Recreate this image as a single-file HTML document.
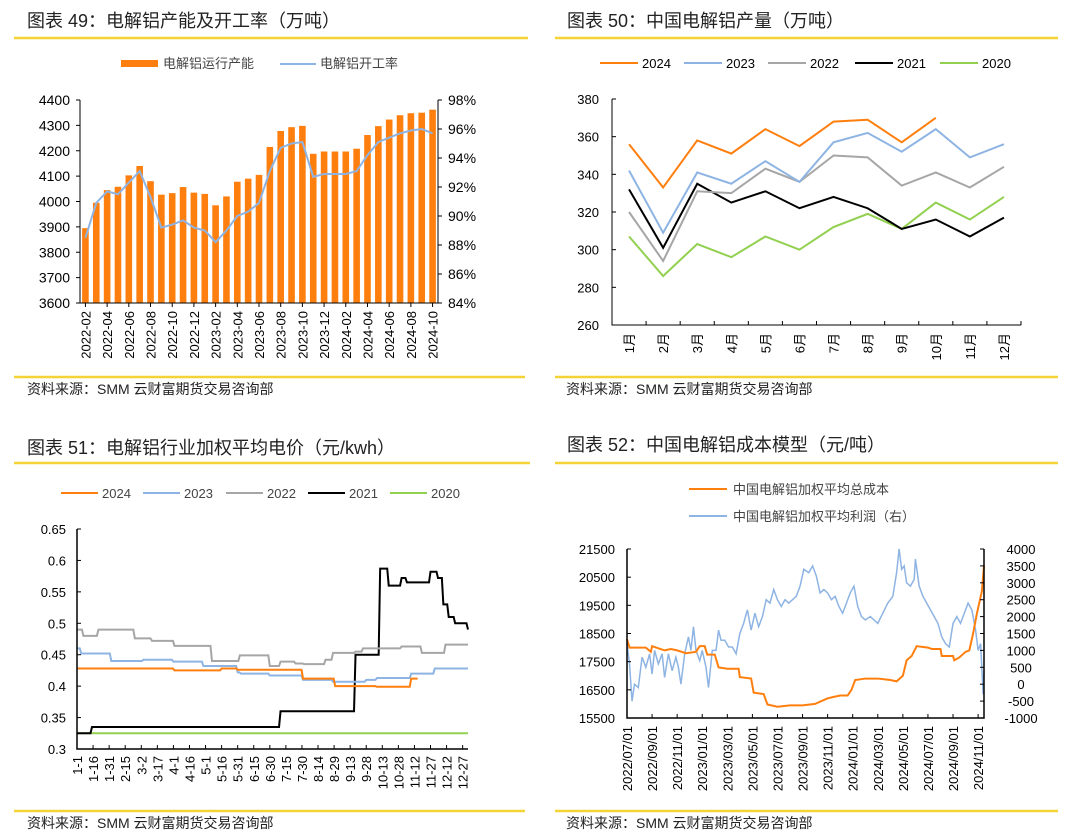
<!DOCTYPE html>
<html><head><meta charset="utf-8"><style>
html,body{margin:0;padding:0;background:#fff;}
svg{display:block;font-family:"Liberation Sans","Noto Sans CJK SC",sans-serif;}
</style></head><body>
<svg id="root" width="1071" height="833" viewBox="0 0 1071 833" xmlns="http://www.w3.org/2000/svg">
<rect width="1071" height="833" fill="#fff"/>
<g font-size="18" fill="#222">
<text x="27" y="27">图表 49：电解铝产能及开工率（万吨）</text>
<text x="567" y="27">图表 50：中国电解铝产量（万吨）</text>
<text x="27" y="454">图表 51：电解铝行业加权平均电价（元/kwh）</text>
<text x="567" y="451">图表 52：中国电解铝成本模型（元/吨）</text>
</g>
<g stroke="#f5d235" stroke-width="2.5">
<line x1="14" y1="38" x2="528" y2="38"/>
<line x1="555" y1="38" x2="1058" y2="38"/>
<line x1="14" y1="377" x2="525" y2="377"/>
<line x1="555" y1="377" x2="1058" y2="377"/>
<line x1="14" y1="463" x2="530" y2="463"/>
<line x1="555" y1="463" x2="1058" y2="463"/>
<line x1="14" y1="811" x2="525" y2="811"/>
<line x1="555" y1="811" x2="1058" y2="811"/>
</g>
<g font-size="14" fill="#222">
<text x="27" y="394">资料来源：SMM 云财富期货交易咨询部</text>
<text x="566" y="394">资料来源：SMM 云财富期货交易咨询部</text>
<text x="27" y="828">资料来源：SMM 云财富期货交易咨询部</text>
<text x="566" y="828">资料来源：SMM 云财富期货交易咨询部</text>
</g>
<g id="c1"></g>
<g id="c2"></g>
<g id="c3"></g>
<g id="c4"></g>
</svg>
<script>
// ---- Chart 49 data ----
const c1Months = ["2022-02","2022-03","2022-04","2022-05","2022-06","2022-07","2022-08","2022-09","2022-10","2022-11","2022-12","2023-01","2023-02","2023-03","2023-04","2023-05","2023-06","2023-07","2023-08","2023-09","2023-10","2023-11","2023-12","2024-01","2024-02","2024-03","2024-04","2024-05","2024-06","2024-07","2024-08","2024-09","2024-10"];
const c1Capacity = [3895,3995,4045,4058,4103,4140,4080,4027,4033,4057,4035,4030,3985,4020,4078,4090,4105,4215,4278,4293,4298,4188,4197,4197,4197,4208,4262,4297,4323,4340,4348,4350,4362];
const c1Rate = [88.5,90.9,91.7,91.5,92.3,93.1,91.3,89.2,89.4,89.7,89.2,89.0,88.2,89.0,90.0,90.3,90.9,93.1,94.7,95.0,95.1,92.7,92.9,92.9,92.9,93.1,94.2,95.1,95.4,95.7,95.9,96.0,95.7];
const c1LeftTicks = [3600,3700,3800,3900,4000,4100,4200,4300,4400];
const c1RightTicks = [84,86,88,90,92,94,96,98];
// ---- Chart 50 data ----
const c2Months = ["1月","2月","3月","4月","5月","6月","7月","8月","9月","10月","11月","12月"];
const c2Years = ["2024","2023","2022","2021","2020"];
const c2S2024 = [356,333,358,351,364,355,368,369,357,370];
const c2S2023 = [342,309,341,335,347,336,357,362,352,364,349,356];
const c2S2022 = [320,294,331,330,343,336,350,349,334,341,333,344];
const c2S2021 = [332,301,335,325,331,322,328,322,311,316,307,317];
const c2S2020 = [307,286,303,296,307,300,312,319,311,325,316,328];
const c2Ticks = [260,280,300,320,340,360,380];
// ---- Chart 51 data (step series: start day, value) ----
const c3Labels = ["1-1","1-16","1-31","2-15","3-2","3-17","4-1","4-16","5-1","5-16","5-31","6-15","6-30","7-15","7-30","8-14","8-29","9-13","9-28","10-13","10-28","11-12","11-27","12-12","12-27"];
const c3Ticks = [0.3,0.35,0.4,0.45,0.5,0.55,0.6,0.65];
const c3D2024 = [0,91,135,150,211,241,280,312,318];
const c3V2024 = [0.428,0.425,0.428,0.426,0.412,0.400,0.399,0.412,0.412];
const c3D2023 = [0,4,32,62,90,118,150,153,180,211,239,270,280,312,334,365];
const c3V2023 = [0.460,0.452,0.440,0.442,0.439,0.432,0.422,0.420,0.417,0.410,0.407,0.410,0.413,0.420,0.428,0.428];
const c3D2022 = [0,6,20,54,70,91,126,152,180,190,204,212,232,239,260,267,303,322,344,365];
const c3V2022 = [0.490,0.480,0.490,0.476,0.472,0.464,0.440,0.449,0.432,0.439,0.436,0.435,0.442,0.453,0.455,0.460,0.463,0.453,0.466,0.466];
const c3D2021 = [0,14,190,260,280,283,291,300,303,308,323,330,334,337,342,347,353,365];
const c3V2021 = [0.325,0.335,0.360,0.450,0.450,0.587,0.560,0.560,0.572,0.565,0.565,0.582,0.582,0.572,0.530,0.510,0.500,0.490];
const c3D2020 = [0,365];
const c3V2020 = [0.325,0.325];
// ---- Chart 52 data (months since 2022/07/01) ----
const c4Labels = ["2022/07/01","2022/09/01","2022/11/01","2023/01/01","2023/03/01","2023/05/01","2023/07/01","2023/09/01","2023/11/01","2024/01/01","2024/03/01","2024/05/01","2024/07/01","2024/09/01","2024/11/01"];
const c4LeftTicks = [15500,16500,17500,18500,19500,20500,21500];
const c4RightTicks = [-1000,-500,0,500,1000,1500,2000,2500,3000,3500,4000];
const c4CostM = [0,0.2,1.5,1.9,2.0,3,3.5,4,4.7,5.5,5.8,6.2,6.4,7.0,7.3,8,8.9,9.0,9.9,10.1,10.9,11.2,12,13,14,15,16,16.5,17,17.6,17.9,18.2,19,20,21,21.5,22,22.3,22.7,23.1,24,24.3,25,25.1,26,26.1,26.5,27,27.3,27.6,27.9,28.3,28.47];
const c4Cost = [18300,18000,18000,17850,18050,17900,17950,17900,17800,17850,18050,18050,17750,17750,17300,17250,17250,16950,16900,16400,16350,15980,15900,15950,15950,16000,16200,16250,16300,16300,16500,16850,16900,16900,16850,16800,17000,17550,17700,18050,18000,17950,17950,17700,17700,17550,17650,17850,17900,18500,19200,20000,20900];
const c4ProfitM = [0,0.2,0.4,0.6,0.9,1.2,1.5,1.8,2.0,2.2,2.5,2.8,3.0,3.3,3.6,3.9,4.1,4.3,4.6,4.9,5.1,5.3,5.5,5.8,6.0,6.3,6.5,6.8,7.1,7.3,7.5,7.8,8.1,8.4,8.7,9.0,9.3,9.6,9.9,10.2,10.5,10.8,11.1,11.4,11.7,12.0,12.3,12.6,12.9,13.2,13.5,13.8,14.1,14.5,14.8,15.1,15.4,15.7,16.0,16.3,16.6,16.9,17.2,17.5,17.8,18.1,18.4,18.7,19.0,19.4,19.7,20.0,20.4,20.8,21.2,21.5,21.7,21.9,22.1,22.3,22.6,22.9,23.0,23.3,23.6,23.9,24.2,24.5,24.8,25.1,25.4,25.7,26.0,26.3,26.6,26.9,27.2,27.5,27.8,28.0,28.2,28.4,28.47];
const c4Profit = [1200,600,-500,0,-100,800,500,900,300,1000,600,900,200,900,400,800,500,0,900,1400,1000,1700,1000,700,1000,500,-100,1000,1000,1600,1300,1300,1100,1100,900,1500,1800,2200,1600,2100,1700,2000,2500,2400,2800,2500,2300,2500,2400,2500,2600,2900,3400,3300,3500,3200,2700,2800,2700,2500,2600,2300,2100,2400,2700,2900,2300,2000,1900,2000,1900,1800,2100,2400,2600,3300,4000,3400,3500,3000,2900,3100,3700,2900,2600,2400,2200,2000,1800,1400,1200,1100,1800,2000,1800,2100,2400,2200,1600,1000,1200,-300,400];

const NS="http://www.w3.org/2000/svg";
function mk(parent,tag,attrs,txt){const e=document.createElementNS(NS,tag);for(const k in attrs)e.setAttribute(k,attrs[k]);if(txt!==undefined)e.textContent=txt;parent.appendChild(e);return e;}
function lin(d0,d1,r0,r1){return v=>r0+(v-d0)/(d1-d0)*(r1-r0);}
const ORANGE="#ff7f0e",BLUE="#8eb4e3",GRAY="#a6a6a6",BLACK="#000",GREEN="#92d050";

// ================= Chart 49 =================
(function(){
const g=document.getElementById('c1');
const L=80,R=438,T=100,B=303;
const n=c1Months.length, bw=(R-L)/n;
const y=lin(3600,4400,B,T), yr=lin(84,98,B,T);
const xc=i=>L+bw*(i+0.5);
c1Capacity.forEach((v,i)=>{
 const b=mk(g,'rect',{x:xc(i)-3.3,y:y(v),width:6.6,height:B-y(v),fill:ORANGE});
 
 
});
const p=mk(g,'polyline',{points:c1Rate.map((v,i)=>xc(i)+','+yr(v)).join(' '),fill:'none',stroke:BLUE,'stroke-width':2});


const ax=mk(g,'path',{d:`M${L},${T}V${B}H${R}V${T}`,fill:'none',stroke:'#000','stroke-width':1});


c1LeftTicks.forEach(v=>{
 mk(g,'line',{x1:L-4,x2:L,y1:y(v),y2:y(v),stroke:'#000'});
 const t=mk(g,'text',{x:L-10,y:y(v)+5,'text-anchor':'end','font-size':14,fill:'#000'},v);
 
 
});
c1RightTicks.forEach(v=>{
 mk(g,'line',{x1:R,x2:R+4,y1:yr(v),y2:yr(v),stroke:'#000'});
 const t=mk(g,'text',{x:R+10,y:yr(v)+5,'font-size':14,fill:'#000'},v+'%');
 
 
});
c1Months.forEach((m,i)=>{
 if(i%2===0){
  mk(g,'line',{x1:L+bw*i+bw/2,x2:L+bw*i+bw/2,y1:B,y2:B+4,stroke:'#000'});
  const t=mk(g,'text',{transform:`translate(${xc(i)+5},${B+8}) rotate(-90)`,'text-anchor':'end','font-size':13,fill:'#000'},m);
  
  
 }
});
const l1=mk(g,'rect',{x:121,y:60,width:37,height:7,fill:ORANGE});


const lt1=mk(g,'text',{x:163,y:68,'font-size':13,fill:'#444'},'电解铝运行产能');


const l2=mk(g,'line',{x1:280,x2:316,y1:64,y2:64,stroke:BLUE,'stroke-width':2});


const lt2=mk(g,'text',{x:320,y:68,'font-size':13,fill:'#444'},'电解铝开工率');


})();

// ================= Chart 50 =================
(function(){
const g=document.getElementById('c2');
const L=612,R=1021,T=99,B=325;
const n=12,bw=(R-L)/n;
const y=lin(260,380,B,T), xc=i=>L+bw*(i+0.5);
const series=[c2S2024,c2S2023,c2S2022,c2S2021,c2S2020], cols=[ORANGE,BLUE,GRAY,BLACK,GREEN];
for(let s=4;s>=0;s--){
 const p=mk(g,'polyline',{points:series[s].map((v,i)=>xc(i)+','+y(v)).join(' '),fill:'none',stroke:cols[s],'stroke-width':2});
 
 
}
const ax=mk(g,'path',{d:`M${L},${T}V${B}H${R}`,fill:'none',stroke:'#000'});


c2Ticks.forEach(v=>{
 mk(g,'line',{x1:L,x2:L+4,y1:y(v),y2:y(v),stroke:'#000'});
 const t=mk(g,'text',{x:L-13,y:y(v)+5,'text-anchor':'end','font-size':13,fill:'#000'},v);
 
 
});
c2Months.forEach((m,i)=>{
 mk(g,'line',{x1:L+bw*(i+1),x2:L+bw*(i+1),y1:B,y2:B-4,stroke:'#000'});
 const t=mk(g,'text',{transform:`translate(${xc(i)+5},${B+8}) rotate(-90)`,'text-anchor':'end','font-size':13,fill:'#000'},m);
 
 
});
const lx=[600,684,768,855,940];
c2Years.forEach((yname,s)=>{
 const sw=mk(g,'line',{x1:lx[s],x2:lx[s]+38,y1:63,y2:63,stroke:cols[s],'stroke-width':2});
 
 
 const t=mk(g,'text',{x:lx[s]+42,y:68,'font-size':13,fill:'#000'},yname);
 
 
});
})();

// ================= Chart 51 =================
(function(){
const g=document.getElementById('c3');
const L=77,R=468,T=529,B=749;
const x=lin(0,365,L,R), y=lin(0.3,0.65,B,T);
const names=["2024","2023","2022","2021","2020"], cols=[ORANGE,BLUE,GRAY,BLACK,GREEN];
const D=[c3D2024,c3D2023,c3D2022,c3D2021,c3D2020], V=[c3V2024,c3V2023,c3V2022,c3V2021,c3V2020];
for(let s=4;s>=0;s--){
 let d='';
 D[s].forEach((dd,i)=>{
  if(i===0)d+=`M${x(dd)},${y(V[s][i])}`;
  else{d+=`H${x(dd)-1.5}L${x(dd)},${y(V[s][i])}`;}
 });
 const p=mk(g,'path',{d:d,fill:'none',stroke:cols[s],'stroke-width':2});
 
 
}
const ax=mk(g,'path',{d:`M${L},${T}V${B}H${R}`,fill:'none',stroke:'#000','stroke-width':1.5});


c3Ticks.forEach(v=>{
 mk(g,'line',{x1:L,x2:L+4,y1:y(v),y2:y(v),stroke:'#000'});
 const t=mk(g,'text',{x:L-11,y:y(v)+5,'text-anchor':'end','font-size':13,fill:'#000'},v);
 
 
});
c3Labels.forEach((lab,i)=>{
 const xx=x(i*15);
 mk(g,'line',{x1:xx,x2:xx,y1:B,y2:B-4,stroke:'#000'});
 const t=mk(g,'text',{transform:`translate(${xx+5},${B+7}) rotate(-90)`,'text-anchor':'end','font-size':13,fill:'#000'},lab);
 
 
});
const lx=[61,143,226,308,390];
names.forEach((nm,s)=>{
 const sw=mk(g,'line',{x1:lx[s],x2:lx[s]+37,y1:493,y2:493,stroke:cols[s],'stroke-width':2});
 
 
 const t=mk(g,'text',{x:lx[s]+41,y:498,'font-size':13,fill:'#444'},nm);
 
 
});
})();

// ================= Chart 52 =================
(function(){
const g=document.getElementById('c4');
const L=627,R=984,T=549,B=718;
const x=lin(0,28.47,L,R), y=lin(15500,21500,B,T), yr=lin(-1000,4000,B,T);
const pb=mk(g,'polyline',{points:c4ProfitM.map((m,i)=>x(m)+','+yr(c4Profit[i])).join(' '),fill:'none',stroke:BLUE,'stroke-width':1.5});


const pc=mk(g,'polyline',{points:c4CostM.map((m,i)=>x(m)+','+y(c4Cost[i])).join(' '),fill:'none',stroke:ORANGE,'stroke-width':2});


const ax=mk(g,'path',{d:`M${L},${T}V${B}H${R}V${T}`,fill:'none',stroke:'#000','stroke-width':1.5});


c4LeftTicks.forEach(v=>{
 mk(g,'line',{x1:L,x2:L+4,y1:y(v),y2:y(v),stroke:'#000'});
 const t=mk(g,'text',{x:L-12,y:y(v)+5,'text-anchor':'end','font-size':13,fill:'#000'},v);
 
 
});
c4RightTicks.forEach(v=>{
 mk(g,'line',{x1:R-4,x2:R,y1:yr(v),y2:yr(v),stroke:'#000'});
 const t=mk(g,'text',{x:R+37,y:yr(v)+5,'text-anchor':'middle','font-size':13,fill:'#000'},v);
 
 
});
c4Labels.forEach((lab,i)=>{
 const xx=x(i*2);
 mk(g,'line',{x1:xx,x2:xx,y1:B,y2:B-4,stroke:'#000'});
 const t=mk(g,'text',{transform:`translate(${xx+5},${B+8}) rotate(-90)`,'text-anchor':'end','font-size':13,fill:'#000'},lab);
 
 
});
const s1=mk(g,'line',{x1:689,x2:727,y1:489,y2:489,stroke:ORANGE,'stroke-width':2});


const t1=mk(g,'text',{x:733,y:494,'font-size':13,fill:'#444'},'中国电解铝加权平均总成本');


const s2=mk(g,'line',{x1:689,x2:727,y1:516,y2:516,stroke:BLUE,'stroke-width':2});


const t2=mk(g,'text',{x:733,y:521,'font-size':13,fill:'#444'},'中国电解铝加权平均利润（右）');


})();
</script>
</body></html>
